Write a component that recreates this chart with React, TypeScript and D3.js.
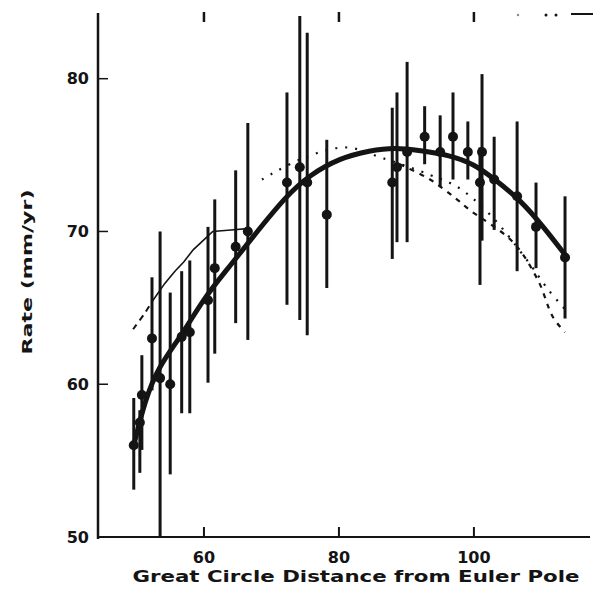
import React from "react";
import * as d3 from "d3";

// ---- data ----
const xTicks = [60, 80, 100];
const yTicks = [50, 60, 70, 80];

// observed rates with error bars
const distance = [49.6, 50.5, 50.8, 52.3, 53.5, 55.0, 56.7, 57.9, 60.6, 61.6, 64.7, 66.5, 72.3, 74.2, 75.3, 78.2, 87.9, 88.6, 90.1, 92.7, 95.0, 96.9, 99.1, 101.2, 100.9, 103.0, 106.4, 109.2, 113.5];
const rate = [56.0, 57.5, 59.3, 63.0, 60.4, 60.0, 63.1, 63.4, 65.5, 67.6, 69.0, 70.0, 73.2, 74.2, 73.2, 71.1, 73.2, 74.2, 75.2, 76.2, 75.2, 76.2, 75.2, 75.2, 73.2, 73.4, 72.3, 70.3, 68.3];
const rateHi = [59.1, 58.3, 61.9, 67.0, 70.0, 66.0, 67.4, 68.1, 70.3, 72.1, 74.0, 77.1, 79.1, 84.1, 83.0, 76.0, 78.1, 79.1, 81.1, 78.2, 77.6, 79.1, 77.2, 80.3, 75.5, 76.2, 77.2, 73.2, 72.3];
const rateLo = [53.1, 54.2, 55.7, 59.6, 49.8, 54.1, 58.1, 58.1, 60.1, 62.0, 64.0, 62.9, 65.2, 64.2, 63.2, 66.3, 68.2, 69.3, 69.3, 74.4, 72.9, 73.4, 73.4, 69.4, 66.5, 70.1, 67.4, 67.6, 64.3];

// best-fit model (thick solid)
const fitX = [49.6, 51.3, 53.2, 56.7, 60.1, 63.6, 66.8, 72.3, 75.7, 80.1, 84.6, 88.3, 92.0, 96.4, 100.1, 103.1, 106.8, 110.5, 113.8];
const fitY = [56.0, 59.0, 61.1, 63.2, 65.7, 67.6, 69.4, 72.4, 73.7, 74.8, 75.3, 75.5, 75.3, 75.0, 74.4, 73.4, 72.1, 70.2, 68.3];

// thin solid model (upper left)
const thinX = [52.3, 54.2, 55.7, 57.0, 58.4, 60.1, 61.3, 64.0, 66.8];
const thinY = [65.4, 66.6, 67.4, 68.0, 68.8, 69.5, 70.0, 70.1, 70.2];

// dashed model
const dashLeftX = [49.5, 51.3, 52.3];
const dashLeftY = [63.6, 64.7, 65.4];
const dashRightX = [89.0, 93.5, 97.2, 99.4, 105.8, 109.5, 111.7, 113.5];
const dashRightY = [74.4, 73.4, 72.2, 71.4, 69.3, 66.8, 64.4, 63.4];

// dotted model
const dotX = [68.6, 74.2, 80.9, 86.5, 93.5, 97.6, 102.4, 107.9, 111.0, 113.5];
const dotY = [73.4, 74.7, 75.5, 74.8, 73.7, 72.9, 71.1, 68.1, 66.2, 64.9];

const INK = "#141414";

export default function App() {
  const W = 593, H = 597;
  const x = d3.scaleLinear().domain([44.3, 117.2]).range([98, 590]);
  const y = d3.scaleLinear().domain([50, 84.3]).range([537, 13]);

  const line = (xs: number[], ys: number[], curve: any = d3.curveCatmullRom) =>
    d3
      .line<number>()
      .x((_, i) => x(xs[i]))
      .y((_, i) => y(ys[i]))
      .curve(curve)(xs) || "";

  const font = "'DejaVu Sans', Verdana, sans-serif";

  return (
    <svg
      width={W}
      height={H}
      viewBox={`0 0 ${W} ${H}`}
      style={{ position: "absolute", left: 0, top: 0, background: "#fff" }}
    >
      <rect width={W} height={H} fill="#fff" />
      {/* axes */}
      <line x1={x.range()[0]} x2={x.range()[0]} y1={y(84.3)} y2={y(50) + 2} stroke={INK} strokeWidth={2.5} />
      <line x1={x.range()[0]} x2={x.range()[1]} y1={y(50)} y2={y(50)} stroke={INK} strokeWidth={2} />

      {yTicks.map((t) => (
        <g key={"y" + t}>
          <line x1={x.range()[0]} x2={x.range()[0] + 10} y1={y(t)} y2={y(t)} stroke={INK} strokeWidth={1.5} />
          <text
            x={x.range()[0] - 9}
            y={y(t)}
            dy="0.36em"
            textAnchor="end"
            fontFamily={font}
            fontWeight={900}
            fontSize={16}
            fill={INK}
          >
            {t}
          </text>
        </g>
      ))}

      {xTicks.map((t) => (
        <g key={"x" + t}>
          <line x1={x(t)} x2={x(t)} y1={y(50)} y2={y(50) - 10} stroke={INK} strokeWidth={2} />
          <line x1={x(t)} x2={x(t)} y1={12} y2={22} stroke={INK} strokeWidth={2.5} />
          <text
            x={x(t)}
            y={y(50) + 20}
            dy="0.36em"
            textAnchor="middle"
            fontFamily={font}
            fontWeight={900}
            fontSize={16}
            fill={INK}
          >
            {t}
          </text>
        </g>
      ))}

      {/* top-right legend remnant */}
      <circle cx={518} cy={15} r={1.2} fill="#888" />
      <circle cx={546} cy={15} r={1.5} fill={INK} />
      <circle cx={556} cy={15} r={1.5} fill={INK} />
      <line x1={571} x2={593} y1={14} y2={14} stroke={INK} strokeWidth={2} />

      {/* axis titles */}
      <text
        x={356}
        y={582}
        textAnchor="middle"
        fontFamily={font}
        fontWeight={900}
        fontSize={15}
        textLength={447}
        lengthAdjust="spacingAndGlyphs"
        fill={INK}
      >
        Great Circle Distance from Euler Pole
      </text>
      <text
        transform="translate(32,272) rotate(-90)"
        textAnchor="middle"
        fontFamily={font}
        fontWeight={900}
        fontSize={14}
        textLength={165}
        lengthAdjust="spacingAndGlyphs"
        fill={INK}
      >
        Rate (mm/yr)
      </text>

      {/* error bars */}
      {distance.map((d, i) => (
        <line
          key={"e" + i}
          x1={x(d)}
          x2={x(d)}
          y1={y(rateHi[i])}
          y2={Math.min(y(rateLo[i]), y(50))}
          stroke={INK}
          strokeWidth={3}
        />
      ))}

      {/* model curves */}
      <path d={line(dotX, dotY)} fill="none" stroke={INK} strokeWidth={2.2} strokeDasharray="2 8" />
      <path d={line(dashLeftX, dashLeftY)} fill="none" stroke={INK} strokeWidth={2} strokeDasharray="6 5" />
      <path d={line(dashRightX, dashRightY)} fill="none" stroke={INK} strokeWidth={2.2} strokeDasharray="5 6" />
      <path d={line(thinX, thinY, d3.curveLinear)} fill="none" stroke={INK} strokeWidth={1.6} />
      <path d={line(fitX, fitY, d3.curveBasis)} fill="none" stroke={INK} strokeWidth={5} strokeLinecap="round" />

      {/* points */}
      {distance.map((d, i) => (
        <circle key={"p" + i} cx={x(d)} cy={y(rate[i])} r={5} fill={INK} />
      ))}
    </svg>
  );
}
